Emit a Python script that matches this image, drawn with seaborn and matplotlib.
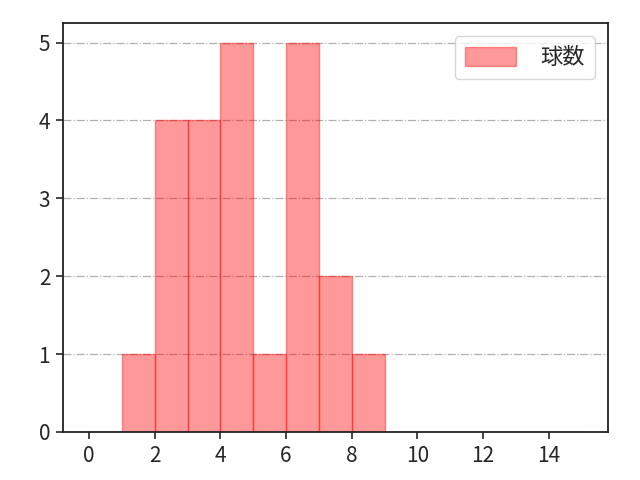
import numpy as np
import pandas as pd
import matplotlib
matplotlib.use('Agg')
import matplotlib.pyplot as plt
import seaborn as sns

# bins of width 1 and count per bin
bin_edges = list(range(0, 16))
bin_left = [1, 2, 3, 4, 5, 6, 7, 8]
counts = [1, 4, 4, 5, 1, 5, 2, 1]
label = '球数'

sns.set_style('ticks')
plt.rcParams['font.family'] = ['Noto Sans CJK JP', 'DejaVu Sans']

df = pd.DataFrame({'x': [b + 0.5 for b in bin_left], 'n': counts})

fig, ax = plt.subplots(figsize=(6.4, 4.8), dpi=100)

sns.histplot(
    data=df,
    x='x',
    weights='n',
    bins=bin_edges,
    color=(1, 0, 0, 0.4),
    alpha=0.4,
    edgecolor=(1, 0, 0, 0.4),
    linewidth=1.0,
    label=label,
    ax=ax
)

ax.set_xlim(-0.8, 15.8)
ax.set_ylim(0, 5.25)
ax.set_xticks(np.arange(0, 16, 2))
ax.set_yticks(range(0, 6))
ax.set_xlabel('')
ax.set_ylabel('')
ax.tick_params(labelsize=15, length=5, width=1.2, pad=4)
ax.grid(axis='y', linestyle='-.', color='#b0b0b0', linewidth=0.9)
ax.set_axisbelow(True)
for s in ax.spines.values():
    s.set_linewidth(1.3)
    s.set_color('#222222')

ax.legend(loc='upper right', fontsize=16, handlelength=2.3, handleheight=0.9,
          handletextpad=1.1, borderpad=0.45, borderaxespad=0.6)

fig.subplots_adjust(left=0.098, right=0.95, top=0.952, bottom=0.1)
plt.savefig('out.png', dpi=100)
